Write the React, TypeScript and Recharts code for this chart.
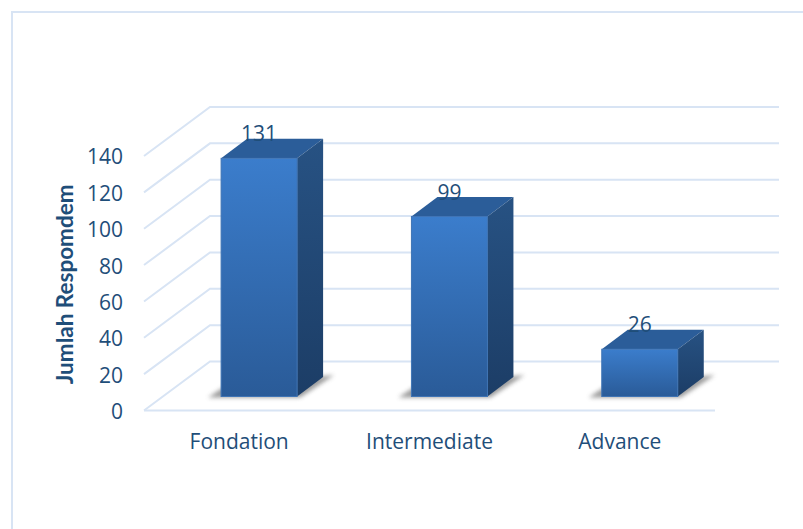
import { Bar, BarChart, CartesianGrid, Label, XAxis, YAxis } from "recharts"

const levels = ["Fondation", "Intermediate", "Advance"]
const respondents = [131, 99, 26]
const yTicks = [0, 20, 40, 60, 80, 100, 120, 140]

const data = levels.map((level, i) => ({ level, total: respondents[i] }))

const textColor = "#1f4e79"
const lineColor = "#d8e4f4"
const font = "'Open Sans', sans-serif"

// how far the back wall sits behind the axis plane
const wallX = 66
const wallY = 49
// bars stand part way into the floor
const barShiftX = 20
const barShiftY = 14
const depthX = 26
const depthY = 19.5

// one grid line: runs back along the side wall, then across the back wall
function WallLine(props: any) {
  const { x1, x2, y1, index } = props
  const backY = y1 - wallY
  return (
    <g key={index}>
      <polyline
        points={`${x1},${y1} ${x1 + wallX},${backY} ${x2 + 64},${backY}`}
        fill="none"
        stroke={lineColor}
        strokeWidth={2}
      />
      {/* the floor's front edge */}
      {index === 0 && <line x1={x1} x2={x2} y1={y1} y2={y1} stroke={lineColor} strokeWidth={2} />}
    </g>
  )
}

function Box(props: any) {
  const x = props.x + barShiftX
  const y = props.y - barShiftY
  const w = props.width
  const h = props.height
  const right = x + w
  const bottom = y + h
  return (
    <g>
      <polygon
        points={`${x - 13},${bottom + 1} ${x + 2},${bottom - 9} ${right + depthX + 11},${bottom - depthY - 2} ${right + 3},${bottom + 1}`}
        fill="#7c7c7c"
        opacity={0.75}
        filter="url(#boxShadow)"
      />
      <polygon
        points={`${x},${y} ${x + depthX},${y - depthY} ${right + depthX},${y - depthY} ${right},${y}`}
        fill="#2b5d99"
      />
      <polygon
        points={`${right},${y} ${right + depthX},${y - depthY} ${right + depthX},${bottom - depthY} ${right},${bottom}`}
        fill="url(#boxSide)"
      />
      <rect x={x} y={y} width={w} height={h} fill="url(#boxFront)" stroke="#3f74b5" strokeWidth={1} />
    </g>
  )
}

function ValueLabel(props: any) {
  const { x, y, width, value } = props
  return (
    <text
      x={x + width / 2 + barShiftX}
      y={y - barShiftY - 25}
      textAnchor="middle"
      dominantBaseline="central"
      fontFamily={font}
      fontSize={21}
      fill={textColor}
    >
      {value}
    </text>
  )
}

export default function App() {
  return (
    <div style={{ position: "absolute", left: 0, top: 0, width: 803, height: 529, overflow: "hidden", background: "#fff" }}>
      {/* chart frame, only its top and left edges show */}
      <div
        style={{
          position: "absolute",
          left: 11,
          top: 11,
          right: 0,
          bottom: 0,
          borderTop: `2px solid ${lineColor}`,
          borderLeft: `2px solid ${lineColor}`
        }}
      />
      <div style={{ position: "absolute", left: 0, top: 0 }}>
        <BarChart
          width={803}
          height={529}
          data={data}
          barCategoryGap="30%"
          margin={{ top: 156, right: 88, bottom: 88.5, left: 84 }}
        >
          <defs>
            <linearGradient id="boxFront" x1="0" y1="0" x2="0" y2="1">
              <stop offset="0%" stopColor="#3b7dcc" />
              <stop offset="100%" stopColor="#2a5b98" />
            </linearGradient>
            <linearGradient id="boxSide" x1="0" y1="0" x2="0" y2="1">
              <stop offset="0%" stopColor="#275283" />
              <stop offset="100%" stopColor="#1c3d66" />
            </linearGradient>
            <filter id="boxShadow" x="-20%" y="-40%" width="140%" height="180%">
              <feGaussianBlur stdDeviation="2" />
            </filter>
          </defs>
          <CartesianGrid vertical={false} horizontal={WallLine} />
          <XAxis
            dataKey="level"
            axisLine={false}
            tickLine={false}
            height={30}
            tickMargin={18}
            tick={{ fill: textColor, fontFamily: font, fontSize: 21 }}
          />
          <YAxis
            domain={[0, 140]}
            ticks={yTicks}
            width={60}
            axisLine={false}
            tickLine={false}
            tickMargin={15}
            tick={{ fill: textColor, fontFamily: font, fontSize: 21, dy: 1 }}
          >
            <Label
              value="Jumlah Respomdem"
              angle={-90}
              position="insideLeft"
              offset={0}
              dx={-19}
              dy={101}
              fill={textColor}
              fontFamily="Lato, sans-serif"
              fontSize={22.5}
              fontWeight={700}
            />
          </YAxis>
          <Bar dataKey="total" shape={Box} label={ValueLabel} isAnimationActive={false} />
        </BarChart>
      </div>
    </div>
  )
}
